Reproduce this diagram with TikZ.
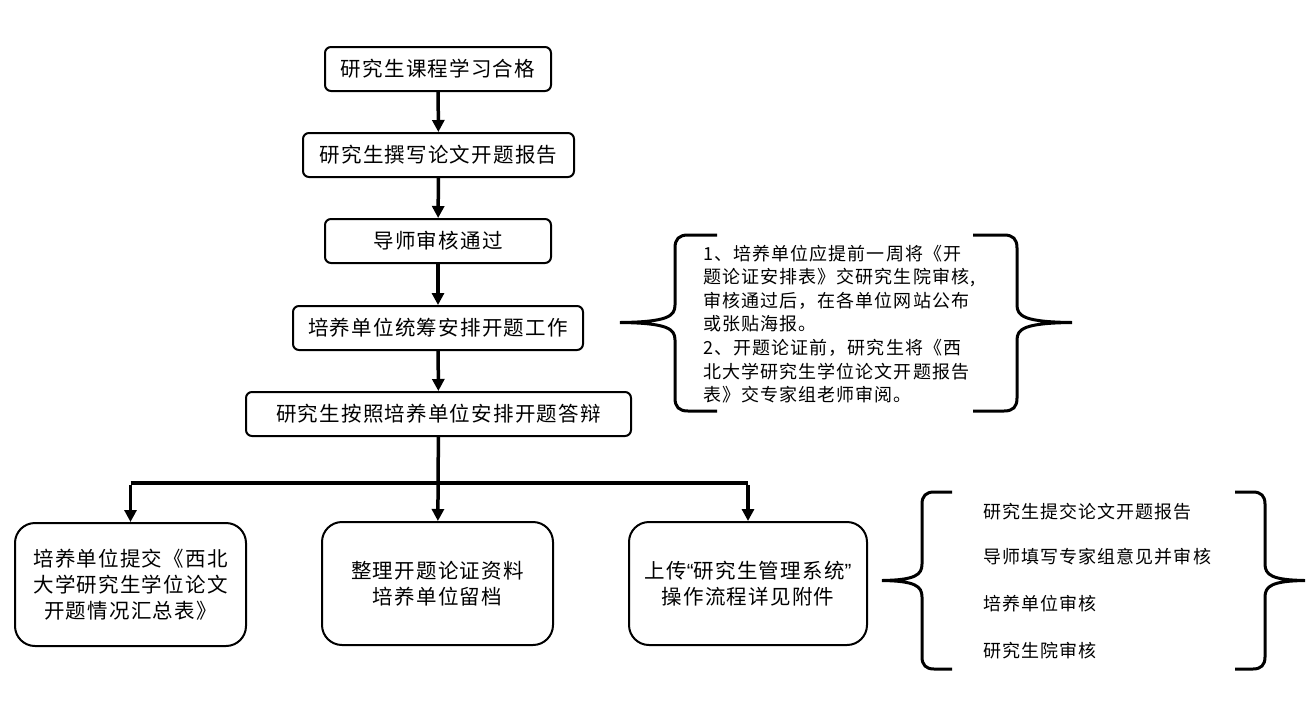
\documentclass[tikz,border=0pt]{standalone}
\usepackage{fontspec}
\setmainfont{Noto Sans CJK SC}[LetterSpace=6]
\newfontfamily\quotefont{Liberation Sans}
\usetikzlibrary{arrows.meta}
\tikzset{
  stepbox/.style={draw, line width=2pt, rounded corners=6pt, align=center, inner sep=0pt, font=\fontsize{20.5}{26}\selectfont},
  bigbox/.style={draw, line width=2pt, rounded corners=20pt, align=center, inner sep=0pt, minimum width=231pt, minimum height=123pt, font=\fontsize{20.5}{26}\selectfont},
  arr/.style={line width=3.5pt, -{Triangle[length=12pt,width=12pt]}},
  flow/.style={line width=4pt},
  bracepath/.style={line width=3pt},
  notetext/.style={font=\fontsize{18}{23.6}\selectfont, align=left, inner sep=0pt, anchor=west}
}
\begin{document}
\begin{tikzpicture}[x=1pt,y=-1pt]
\useasboundingbox (0,0) rectangle (1306,710);
\fill[white] (0,0) rectangle (1306,710);

\node[stepbox, minimum width=226pt, minimum height=44pt] (b1) at (438,69) {研究生课程学习合格};
\node[stepbox, minimum width=271pt, minimum height=44pt] (b2) at (438.5,155) {研究生撰写论文开题报告};
\node[stepbox, minimum width=226pt, minimum height=44pt] (b3) at (438,241) {导师审核通过};
\node[stepbox, minimum width=290pt, minimum height=44pt] (b4) at (438,328) {培养单位统筹安排开题工作};
\node[stepbox, minimum width=385pt, minimum height=44pt] (b5) at (438.5,414) {研究生按照培养单位安排开题答辩};

\node[bigbox] (b6) at (130.5,584.5) {培养单位提交《西北\\大学研究生学位论文\\开题情况汇总表》};
\node[bigbox] (b7) at (437.5,583.5) {整理开题论证资料\\培养单位留档};
\node[bigbox, minimum width=238pt] (b8) at (748,583.5) {上传{\quotefont“}研究生管理系统{\quotefont”}\\操作流程详见附件};

\draw[arr] (b1) -- (b2);
\draw[arr] (b2) -- (b3);
\draw[arr] (b3) -- (b4);
\draw[arr] (b4) -- (b5);

\coordinate (jl) at (130.5,483);
\coordinate (jr) at (748,483);
\draw[flow] (jl) -- (jr);
\draw[arr] (b5) -- (b7);
\draw[arr] ([yshift=-2pt]jl) -- (b6.north);
\draw[arr] ([yshift=-2pt]jr) -- (b8.north);

% brace pair 1
\draw[bracepath] (717,235) -- (688,235) .. controls (679,235) and (675,239) .. (675,248) -- (675,305) .. controls (675,316) and (668,322) .. (620,322.5) .. controls (668,323) and (675,329) .. (675,340) -- (675,398) .. controls (675,407) and (679,411) .. (688,411) -- (717,411);
\draw[bracepath] (973,235) -- (1004,235) .. controls (1013,235) and (1017,239) .. (1017,248) -- (1017,305) .. controls (1017,316) and (1024,322) .. (1072,322.5) .. controls (1024,323) and (1017,329) .. (1017,340) -- (1017,398) .. controls (1017,407) and (1013,411) .. (1004,411) -- (973,411);
\node[notetext] (note1) at (703,324) {1、培养单位应提前一周将《开\\题论证安排表》交研究生院审核,\\审核通过后，在各单位网站公布\\或张贴海报。\\2、开题论证前，研究生将《西\\北大学研究生学位论文开题报告\\表》交专家组老师审阅。};

% brace pair 2
\draw[bracepath] (952,492) -- (934,492) .. controls (926,492) and (922,496) .. (922,504) -- (922,564) .. controls (922,575) and (915,580) .. (882,580.5) .. controls (915,581) and (922,586) .. (922,597) -- (922,657) .. controls (922,665) and (926,669) .. (934,669) -- (952,669);
\draw[bracepath] (1235,492) -- (1253,492) .. controls (1261,492) and (1265,496) .. (1265,504) -- (1265,564) .. controls (1265,575) and (1272,580) .. (1305,580.5) .. controls (1272,581) and (1265,586) .. (1265,597) -- (1265,657) .. controls (1265,665) and (1261,669) .. (1253,669) -- (1235,669);
\node[notetext] (s1) at (983,512) {研究生提交论文开题报告};
\node[notetext] (s2) at (983,557) {导师填写专家组意见并审核};
\node[notetext] (s3) at (983,604) {培养单位审核};
\node[notetext] (s4) at (983,651) {研究生院审核};
\end{tikzpicture}
\end{document}
